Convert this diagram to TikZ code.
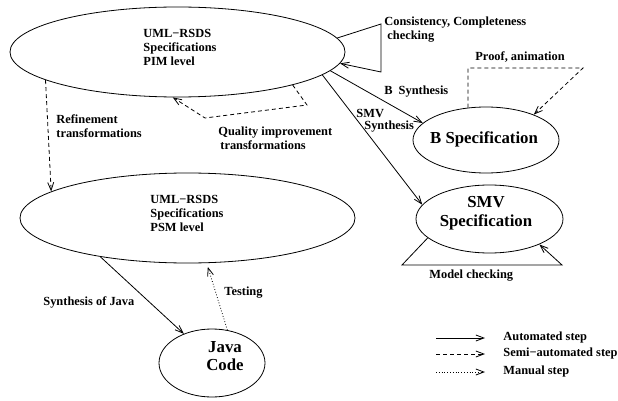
\documentclass[tikz,border=0pt]{standalone}
\usepackage{fontspec}
\setmainfont{Liberation Serif}
\usetikzlibrary{shapes.geometric,arrows.meta}

\begin{document}
\begin{tikzpicture}[x=1pt,y=-1pt,line width=0.8pt,
  font=\bfseries\fontsize{12.4}{14}\selectfont,
  state/.style={draw,ellipse,inner sep=0pt},
  txt/.style={inner sep=0pt,align=left},
  bigtext/.style={inner sep=0pt,font=\bfseries\fontsize{16.8}{19}\selectfont,align=center},
  lbl/.style={anchor=west,inner sep=0pt,align=left},
  arr/.style={-{Straight Barb[length=8pt,width=6pt]}},
  semi/.style={arr,dash pattern=on 4pt off 3pt},
  manual/.style={arr,dotted}]
\useasboundingbox (0,0) rectangle (618,401);

% model nodes
\node[state,minimum width=335,minimum height=90] (pim) at (177.5,52) {};
\node[txt] (pimtxt) at (180,47) {UML−RSDS\\Specifications\\PIM level};
\node[state,minimum width=335,minimum height=90] (psm) at (187.5,218) {};
\node[txt] (psmtxt) at (187,213) {UML−RSDS\\Specifications\\PSM level};
\node[state,minimum width=146,minimum height=66] (bspec) at (486,140) {};
\node[bigtext] (bspectxt) at (484,139) {B Specification};
\node[state,minimum width=147,minimum height=68] (smv) at (489.5,219) {};
\node[bigtext] (smvtxt) at (486,213) {SMV\\Specification};
\node[state,minimum width=106,minimum height=68] (java) at (212,363) {};
\node[bigtext,font=\bfseries\fontsize{16.8}{18}\selectfont] (javatxt) at (225,356) {Java\\Code};

% consistency / completeness loop on the PIM model
\coordinate (cc1) at (381,24);
\coordinate (cc2) at (381,72);
\draw[arr] (pim.5) -- (cc1) -- (cc2) -- (pim.-4);
\node[lbl] (cclbl) at (384,30) {Consistency, Completeness\\\hspace{3pt}checking};

% synthesis steps
\draw[arr] (pim.-7.5) -- (bspec.165);
\node[lbl] (bsyn) at (384,92) {B\hspace{6pt}Synthesis};
\draw[arr] (pim.-9) -- (smv.168);
\node[lbl,font=\bfseries\fontsize{12.4}{12}\selectfont] (smvsyn) at (356,121)
  {SMV\\\hspace{8pt}Synthesis};

% proof and animation of the B specification
\coordinate (pa1) at (468,68);
\coordinate (pa2) at (583,68);
\draw[semi] (bspec.119) -- (pa1) -- (pa2) -- (bspec.28);
\node[lbl] (palbl) at (475,57) {Proof, animation};

% quality improvement of the PIM model
\coordinate (qi1) at (307,105);
\coordinate (qi2) at (205,118);
\draw[semi] (pim.-16.3) -- (qi1) -- (qi2) -- (pim.-96);
\node[lbl] (qilbl) at (218,138) {Quality improvement\\\hspace{2pt}transformations};

% refinement PIM -> PSM
\draw[semi] (pim.192.4) -- (psm.169.9);
\node[lbl] (reflbl) at (56,126) {Refinement\\transformations};

% code generation and testing
\draw[arr] (psm.-156.7) -- (java.134);
\node[lbl] (sjlbl) at (43,302) {Synthesis of Java};
\draw[manual,shorten >=4pt] (java.65.6) -- (psm.-67.6);
\node[lbl] (testlbl) at (224,293) {Testing};

% model checking of the SMV specification
\coordinate (mc1) at (402,265);
\coordinate (mc2) at (562,265);
\draw[arr] (smv.-163.3) -- (mc1) -- (mc2) -- (smv.-27);
\node[lbl] (mclbl) at (429,276) {Model checking};

% legend
\coordinate (la1) at (436,338); \coordinate (la2) at (485,338);
\coordinate (lb1) at (436,354); \coordinate (lb2) at (485,354);
\coordinate (lc1) at (436,372); \coordinate (lc2) at (485,372);
\draw[arr] (la1) -- (la2);
\draw[semi] (lb1) -- (lb2);
\draw[manual] (lc1) -- (lc2);
\node[lbl] (leg1) at (503,338) {Automated step};
\node[lbl] (leg2) at (503,354) {Semi−automated step};
\node[lbl] (leg3) at (503,372) {Manual step};
\end{tikzpicture}
\end{document}
